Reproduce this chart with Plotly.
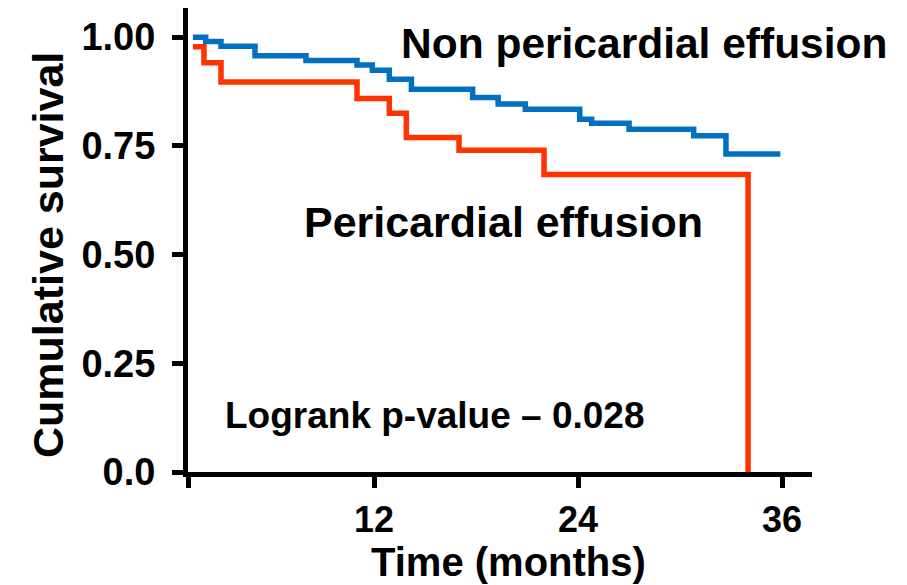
import plotly.graph_objects as go

# Kaplan-Meier step data (time in months, cumulative survival)
non_pe_time = [1.35, 2.1, 3.0, 5.0, 8.0, 11.0, 11.9, 12.9, 14.2, 17.8, 19.3, 20.9,
               24.1, 24.8, 27.0, 30.8, 32.7, 35.9]
non_pe_surv = [1.000, 0.990, 0.979, 0.957, 0.946, 0.936, 0.924, 0.903, 0.880, 0.861,
               0.846, 0.834, 0.811, 0.802, 0.788, 0.773, 0.731, 0.731]

pe_time = [1.35, 2.0, 3.0, 11.0, 12.9, 13.9, 17.0, 22.0, 34.0]
pe_surv = [0.978, 0.941, 0.897, 0.859, 0.825, 0.769, 0.740, 0.684, 0.0]

x_ticks = [12, 24, 36]
y_ticks = [0.0, 0.25, 0.50, 0.75, 1.00]
y_tick_labels = ["0.0", "0.25", "0.50", "0.75", "1.00"]

X_MIN, X_MAX = 1.06, 37.76
Y_MIN, Y_MAX = 0.0, 1.067

BLUE = "#0070C0"
RED = "#FF3300"
FONT = "Liberation Sans, Arial, sans-serif"

fig = go.Figure()
fig.add_trace(go.Scatter(x=pe_time, y=pe_surv, mode="lines", line_shape="hv",
                         line=dict(color=RED, width=5.5), name="Pericardial effusion",
                         cliponaxis=False))
fig.add_trace(go.Scatter(x=non_pe_time, y=non_pe_surv, mode="lines", line_shape="hv",
                         line=dict(color=BLUE, width=5.5), name="Non pericardial effusion",
                         cliponaxis=False))

fig.add_annotation(x=27.9, y=0.986, text="<b>Non pericardial effusion</b>", showarrow=False,
                   font=dict(size=42.5, color="black", family=FONT))
fig.add_annotation(x=19.6, y=0.575, text="<b>Pericardial effusion</b>", showarrow=False,
                   font=dict(size=43, color="black", family=FONT))
fig.add_annotation(x=15.6, y=0.129, text="<b>Logrank p-value – 0.028</b>", showarrow=False,
                   font=dict(size=37, color="black", family=FONT))

# axis titles placed as free labels around the plot area
fig.add_annotation(xref="paper", yref="paper", x=-0.2244, y=0.4677,
                   xanchor="center", yanchor="middle", textangle=-90,
                   text="<b>Cumulative survival</b>", showarrow=False,
                   font=dict(size=43, color="black", family=FONT))
fig.add_annotation(xref="paper", yref="paper", x=0.513, y=-0.193,
                   xanchor="center", yanchor="middle",
                   text="<b>Time (months)</b>", showarrow=False,
                   font=dict(size=40, color="black", family=FONT))

fig.update_layout(
    width=907, height=585,
    margin=dict(l=188, r=95, t=8, b=113),
    paper_bgcolor="white", plot_bgcolor="white",
    showlegend=False,
    font=dict(family=FONT, color="black"),
)
fig.update_xaxes(
    range=[X_MIN, X_MAX],
    tickvals=[X_MIN] + x_ticks, ticktext=[""] + [f"<b>{v}</b>" for v in x_ticks],
    ticks="outside", ticklen=11, tickwidth=5, tickcolor="black",
    showline=True, linewidth=5, linecolor="black",
    showgrid=False, zeroline=False,
    tickfont=dict(size=36, family=FONT, color="black"),
    ticklabelstandoff=1,
)
fig.update_yaxes(
    range=[Y_MIN, Y_MAX],
    tickvals=y_ticks, ticktext=[f"<b>{t}</b>" for t in y_tick_labels],
    ticks="outside", ticklen=11, tickwidth=5, tickcolor="black",
    showline=True, linewidth=5, linecolor="black",
    showgrid=False, zeroline=False,
    tickfont=dict(size=38, family=FONT, color="black"),
    ticklabelstandoff=9,
)

fig.write_html("out.html")
